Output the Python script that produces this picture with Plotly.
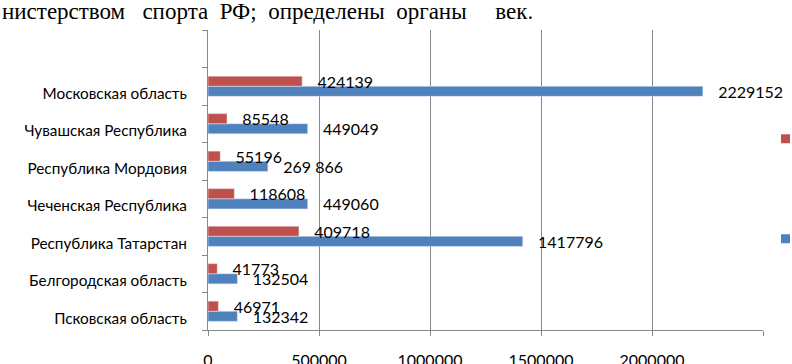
import plotly.graph_objects as go

categories = ["Псковская область", "Белгородская область", "Республика Татарстан",
              "Чеченская Республика", "Республика Мордовия", "Чувашская Республика",
              "Московская область"]
blue_values = [132342, 132504, 1417796, 449060, 269866, 449049, 2229152]
blue_labels = ["132342", "132504", "1417796", "449060", "269 866", "449049", "2229152"]
red_values = [46971, 41773, 409718, 118608, 55196, 85548, 424139]
red_labels = ["46971", "41773", "409718", "118608", "55196", "85548", "424139"]
x_ticks = [0, 500000, 1000000, 1500000, 2000000, 2500000]
x_tick_labels = ["0", "500000", "1000000", "1500000", "2000000", "2500000"]
blue_name = "Численность занимающихся"
red_name = "Численность сдавших нормативы"
header_text = "нистерством\u00a0\u00a0\u00a0спорта\u00a0\u00a0РФ;\u00a0\u00a0определены\u00a0\u00a0органы\u00a0\u00a0\u00a0\u00a0\u00a0век."

BLUE = "#4F81BD"
RED = "#C0504D"
GRID = "#878787"
FONT = "Lato"
pad = "\u00a0\u00a0\u00a0"

ypos = list(range(len(categories)))

fig = go.Figure()
fig.add_trace(go.Bar(
    y=ypos, x=blue_values, orientation="h", marker_color=BLUE,
    text=[pad + t for t in blue_labels], textposition="outside",
    textfont=dict(family=FONT, size=16, color="#000000"),
    cliponaxis=False, constraintext="none", showlegend=False, name=blue_name,
))
fig.add_trace(go.Bar(
    y=ypos, x=red_values, orientation="h", marker_color=RED,
    text=[pad + t for t in red_labels], textposition="outside",
    textfont=dict(family=FONT, size=16, color="#000000"),
    cliponaxis=False, constraintext="none", showlegend=False, name=red_name,
))
# legend markers
fig.add_trace(go.Scatter(x=[None], y=[None], mode="markers", name=red_name,
                         marker=dict(symbol="square", size=9, color=RED), legend="legend"))
fig.add_trace(go.Scatter(x=[None], y=[None], mode="markers", name=blue_name,
                         marker=dict(symbol="square", size=9, color=BLUE), legend="legend2"))

fig.update_layout(
    width=792, height=364,
    margin=dict(l=208, r=29, t=30, b=34, autoexpand=False),
    paper_bgcolor="white", plot_bgcolor="white",
    barmode="group", bargap=0.46, bargroupgap=0,
    font=dict(family=FONT, size=15, color="#000000"),
    legend=dict(x=1.0045, y=0.637, xanchor="left", yanchor="middle",
                font=dict(family=FONT, size=15), bgcolor="rgba(0,0,0,0)"),
    legend2=dict(x=1.0045, y=0.303, xanchor="left", yanchor="middle",
                 font=dict(family=FONT, size=15), bgcolor="rgba(0,0,0,0)"),
    xaxis=dict(range=[0, 2500000], tickvals=x_ticks, ticktext=x_tick_labels,
               showgrid=True, gridcolor=GRID, gridwidth=1, zeroline=False,
               showline=True, linecolor=GRID, linewidth=1,
               ticks="outside", ticklen=5, tickcolor=GRID,
               ticklabelstandoff=11, tickfont=dict(family=FONT, size=16, color="#000000")),
    yaxis=dict(range=[-0.5, 7.5], tickvals=ypos, ticktext=categories,
               showgrid=False, zeroline=False,
               showline=True, linecolor=GRID, linewidth=1,
               ticks="", ticklabelstandoff=17, ticklabelshift=7,
               tickfont=dict(family=FONT, size=15.3, color="#000000"),
               minor=dict(tick0=-0.5, dtick=1, ticks="outside", ticklen=5,
                          tickcolor=GRID, showgrid=False)),
    annotations=[dict(text=header_text, xref="paper", yref="paper",
                      x=-208/555, y=1 + 18/300, xanchor="left", yanchor="middle",
                      showarrow=False,
                      font=dict(family="Liberation Serif", size=23, color="#000000"))],
)

fig.write_html("out.html", config={"displayModeBar": False},
               post_script="document.body.style.margin='0';")
